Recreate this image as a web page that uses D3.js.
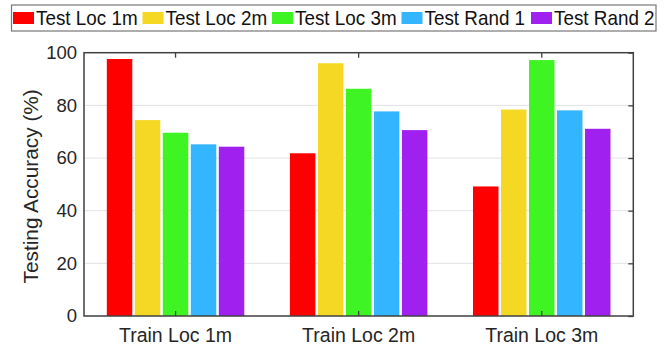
<!DOCTYPE html>
<html>
<head>
<meta charset="utf-8">
<script src="https://cdn.jsdelivr.net/npm/d3@7"></script>
<style>
  html, body { margin: 0; padding: 0; background: #fff; }
  svg { display: block; font-family: "Liberation Sans", Arial, Helvetica, sans-serif; }
</style>
</head>
<body>
<svg id="chart" width="668" height="350"></svg>
<script>
// Training configurations (x groups)
const categories = ["Train Loc 1m", "Train Loc 2m", "Train Loc 3m"];
// Test sets (one bar per group each)
const series = ["Test Loc 1m", "Test Loc 2m", "Test Loc 3m", "Test Rand 1", "Test Rand 2"];
const colors = ["#ff0000", "#f5d823", "#3ef523", "#33b5ff", "#a020f0"];
// Testing accuracy (%) per test set, one value per training configuration
const testLoc1m  = [97.6, 61.8, 49.2];
const testLoc2m  = [74.4, 96.0, 78.4];
const testLoc3m  = [69.6, 86.3, 97.2];
const testRand1  = [65.2, 77.7, 78.1];
const testRand2  = [64.3, 70.6, 71.1];
const seriesValues = [testLoc1m, testLoc2m, testLoc3m, testRand1, testRand2];
const yTicks = [0, 20, 40, 60, 80, 100];
const yLabel = "Testing Accuracy (%)";

const svg = d3.select("#chart");
const plot = { left: 84, right: 633.3, top: 52.7, bottom: 316 };
const axisColor = "#404040";
const textColor = "#262626";

const x0 = d3.scaleBand().domain(categories).range([plot.left, plot.right]).padding(0);
const groupWidth = 140;
const x1 = d3.scaleBand().domain(series).range([0, groupWidth]).paddingInner(0.09).paddingOuter(0.045);
const y = d3.scaleLinear().domain([0, 100]).range([plot.bottom, plot.top]);

// grid lines
svg.append("g")
  .selectAll("line")
  .data(yTicks.filter(t => t > 0 && t < 100))
  .join("line")
  .attr("x1", plot.left).attr("x2", plot.right)
  .attr("y1", d => y(d)).attr("y2", d => y(d))
  .attr("stroke", "#e3e3e3").attr("stroke-width", 1);

// bars
const rows = [];
categories.forEach((c, gi) => {
  series.forEach((s, si) => rows.push({ c, s, si, v: seriesValues[si][gi] }));
});
svg.append("g")
  .selectAll("rect")
  .data(rows)
  .join("rect")
  .attr("x", d => x0(d.c) + (x0.bandwidth() - groupWidth) / 2 + x1(d.s))
  .attr("width", x1.bandwidth())
  .attr("y", d => y(d.v))
  .attr("height", d => y(0) - y(d.v))
  .attr("fill", d => colors[d.si]);

// axes box with inward ticks
const box = svg.append("g");
const leftAxis = d3.axisLeft(y).tickValues(yTicks).tickSize(0).tickPadding(7);
const gLeft = box.append("g").attr("transform", `translate(${plot.left},0)`).call(leftAxis);
gLeft.select(".domain").remove();
gLeft.selectAll("text").attr("font-size", 18.5).attr("fill", textColor)
  .attr("font-family", "Liberation Sans, Arial, sans-serif");

const rightAxis = d3.axisLeft(y).tickValues(yTicks).tickSize(5).tickFormat("");
const gRight = box.append("g").attr("transform", `translate(${plot.right},0)`).call(rightAxis);
gRight.select(".domain").remove();
gRight.selectAll("line").attr("stroke", axisColor).attr("stroke-width", 1.3);

const bottomAxis = d3.axisTop(x0).tickSize(5).tickFormat("");
const gBottom = box.append("g").attr("transform", `translate(0,${plot.bottom})`).call(bottomAxis);
gBottom.select(".domain").remove();
gBottom.selectAll("line").attr("stroke", axisColor).attr("stroke-width", 1.3);

const topAxis = d3.axisBottom(x0).tickSize(5).tickFormat("");
const gTop = box.append("g").attr("transform", `translate(0,${plot.top})`).call(topAxis);
gTop.select(".domain").remove();
gTop.selectAll("line").attr("stroke", axisColor).attr("stroke-width", 1.3);

box.append("rect")
  .attr("x", plot.left).attr("y", plot.top)
  .attr("width", plot.right - plot.left).attr("height", plot.bottom - plot.top)
  .attr("fill", "none").attr("stroke", axisColor).attr("stroke-width", 1.5);

// category labels
svg.append("g")
  .selectAll("text")
  .data(categories)
  .join("text")
  .attr("x", d => x0(d) + x0.bandwidth() / 2)
  .attr("y", 341.7)
  .attr("text-anchor", "middle")
  .attr("font-size", 19.5)
  .attr("fill", textColor)
  .text(d => d);

// y axis title
svg.append("text")
  .attr("transform", `translate(37.5,${(plot.top + plot.bottom) / 2 + 2}) rotate(-90)`)
  .attr("text-anchor", "middle")
  .attr("font-size", 20.8)
  .attr("fill", textColor)
  .text(yLabel);

// legend
const legend = svg.append("g");
legend.append("rect")
  .attr("x", 11.5).attr("y", 5).attr("width", 644.5).attr("height", 26)
  .attr("fill", "#fff").attr("stroke", "#777").attr("stroke-width", 1.2);
const itemStep = 129.5;
const items = legend.selectAll("g.item")
  .data(series)
  .join("g")
  .attr("class", "item")
  .attr("transform", (d, i) => `translate(${13 + i * itemStep},0)`);
items.append("rect")
  .attr("x", 0).attr("y", 12).attr("width", 21).attr("height", 12)
  .attr("fill", (d, i) => colors[i]);
items.append("text")
  .attr("transform", "translate(23,25) scale(0.92,1)")
  .attr("font-size", 20.5)
  .attr("fill", "#111")
  .text(d => d);
</script>
</body>
</html>
